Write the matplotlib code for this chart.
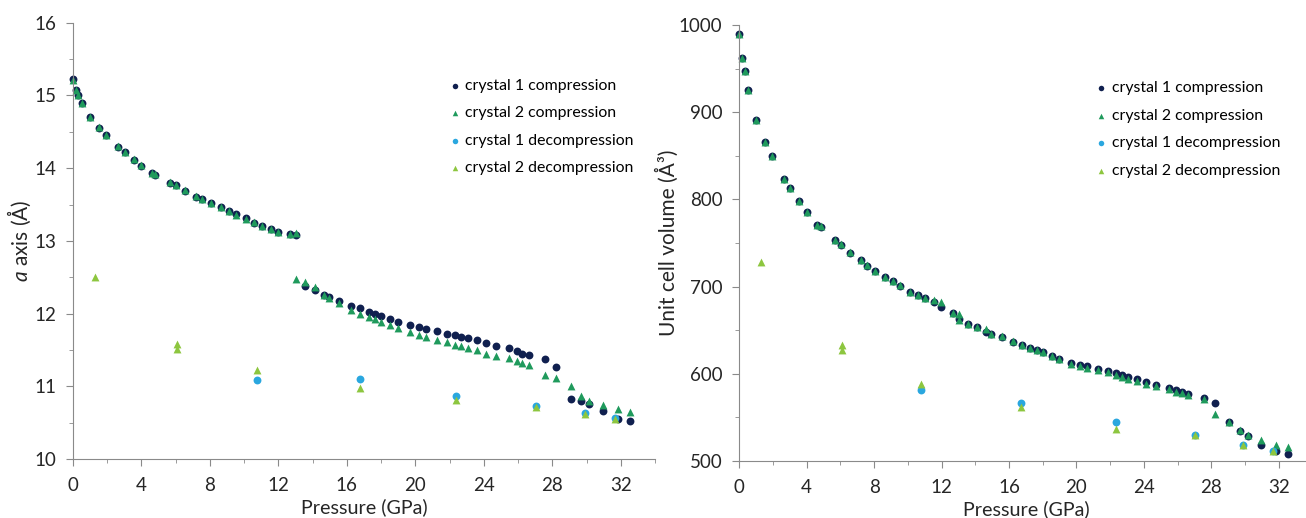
import matplotlib
matplotlib.use("Agg")
import matplotlib.pyplot as plt
from matplotlib.ticker import MultipleLocator

plt.rcParams['font.family'] = ['Lato', 'DejaVu Sans']
plt.rcParams['mathtext.fontset'] = 'custom'
plt.rcParams['mathtext.rm'] = 'Lato'
plt.rcParams['mathtext.it'] = 'Lato:italic'

# crystal 1 compression
p_c1 = [0, 0.19, 0.33, 0.54, 1.01, 1.52, 1.93, 2.66, 3.04, 3.56, 4.01, 4.63, 4.83,
        5.67, 6.05, 6.56, 7.22, 7.57, 8.08, 8.64, 9.13, 9.52, 10.1, 10.59, 11.04,
        11.57, 11.97, 12.67, 13.02,
        13.57, 14.13, 14.64, 14.93, 15.57, 16.26, 16.78, 17.27, 17.66, 18.01, 18.53,
        18.98, 19.66, 20.19, 20.6, 21.26, 21.85, 22.33, 22.68, 23.07, 23.6, 24.12,
        24.73, 25.49, 25.91, 26.23, 26.63, 27.59, 28.23, 29.07, 29.67, 30.16, 30.94,
        31.81, 32.52]
a_c1 = [15.22, 15.08, 15.0, 14.89, 14.70, 14.55, 14.46, 14.29, 14.22, 14.11, 14.03,
        13.94, 13.91, 13.80, 13.77, 13.69, 13.61, 13.57, 13.52, 13.46, 13.41, 13.37,
        13.32, 13.25, 13.21, 13.16, 13.12, 13.09, 13.08,
        12.38, 12.32, 12.26, 12.23, 12.17, 12.10, 12.07, 12.02, 11.99, 11.96, 11.93,
        11.89, 11.84, 11.82, 11.79, 11.76, 11.72, 11.70, 11.68, 11.67, 11.63, 11.60,
        11.56, 11.52, 11.48, 11.45, 11.43, 11.38, 11.27, 10.83, 10.80, 10.75, 10.66,
        10.55, 10.52]
v_c1 = [990, 963, 947, 926, 891, 866, 850, 824, 813, 798, 786, 771, 768, 754, 748,
        739, 730, 724, 718, 711, 706, 701, 694, 690, 687, 682, 677, 670, 663,
        657.5, 653, 647.5, 645, 642, 636, 632.5, 629, 627, 624.5, 620.7, 617, 612.6,
        610.3, 608.4, 605.3, 603, 600.3, 598, 596, 593.4, 590.3, 587.4, 583.5, 580.8,
        579.3, 576.6, 572, 566, 544.4, 534.5, 528.3, 518.4, 511, 508]

# crystal 2 compression
p_c2 = [0, 0.19, 0.33, 0.54, 1.01, 1.52, 1.93, 2.66, 3.04, 3.56, 4.01, 4.63, 4.83,
        5.67, 6.05, 6.56, 7.22, 7.57, 8.08, 8.64, 9.13, 9.52, 10.1, 10.59, 11.04,
        11.57, 11.97, 12.67, 13.04,
        13.05, 13.57, 14.13, 14.64, 14.93, 15.57, 16.26, 16.78, 17.27, 17.66, 18.01,
        18.53, 18.98, 19.66, 20.19, 20.6, 21.26, 21.85, 22.33, 22.68, 23.07, 23.6,
        24.12, 24.73, 25.49, 25.91, 26.23, 26.63, 27.59, 28.23, 29.07, 29.67, 30.16,
        30.94, 31.81, 32.52]
a_c2 = [15.21, 15.07, 15.0, 14.89, 14.71, 14.56, 14.46, 14.30, 14.22, 14.12, 14.04,
        13.94, 13.92, 13.81, 13.77, 13.70, 13.62, 13.58, 13.52, 13.46, 13.41, 13.36,
        13.30, 13.26, 13.21, 13.16, 13.12, 13.10, 13.11,
        12.47, 12.43, 12.37, 12.26, 12.22, 12.15, 12.05, 12.0, 11.95, 11.92, 11.88,
        11.84, 11.80, 11.74, 11.71, 11.68, 11.64, 11.61, 11.57, 11.55, 11.53, 11.50,
        11.45, 11.42, 11.39, 11.35, 11.32, 11.29, 11.15, 11.11, 11.01, 10.87, 10.80,
        10.74, 10.69, 10.65]
v_c2 = [990, 963, 948, 926, 891, 866, 850, 824, 813, 798, 786, 771, 769, 754, 749,
        740, 730, 725, 718, 711, 706, 702, 694, 690, 687, 685, 682, 670, 668,
        662, 657.5, 653, 651, 645.5, 643, 637, 633, 629.5, 627, 624.5, 620, 617,
        611.5, 609, 607, 604, 601.5, 598.5, 596, 594, 591.5, 588.5, 586, 582, 579,
        577.5, 575, 570.5, 554, 544.4, 535.5, 529, 523.3, 518.4, 515.6]

# crystal 1 decompression
p_d1 = [10.77, 16.74, 22.37, 27.02, 29.9, 31.63]
a_d1 = [11.09, 11.10, 10.87, 10.73, 10.63, 10.56]
v_d1 = [580.8, 566.2, 544.7, 529.1, 518.4, 510.7]

# crystal 2 decompression
p_d2 = [1.30, 6.07, 6.07, 10.77, 16.74, 22.37, 27.02, 29.9, 31.63]
a_d2 = [12.50, 11.58, 11.51, 11.22, 10.98, 10.81, 10.72, 10.62, 10.55]
v_d2 = [728.3, 632.5, 627.6, 588.5, 561.6, 536.7, 529.1, 518.4, 510.7]

labels = ["crystal 1 compression", "crystal 2 compression",
          "crystal 1 decompression", "crystal 2 decompression"]
colors = ["#10204f", "#1f9a5c", "#2aa7df", "#8dc63f"]
markers = ["o", "^", "o", "^"]

fig = plt.figure(figsize=(13.06, 5.18), dpi=100)
ax1 = fig.add_axes([0.0557, 0.114, 0.446, 0.842])
ax2 = fig.add_axes([0.566, 0.1106, 0.439, 0.8405])

series1 = [(p_c1, a_c1), (p_c2, a_c2), (p_d1, a_d1), (p_d2, a_d2)]
series2 = [(p_c1, v_c1), (p_c2, v_c2), (p_d1, v_d1), (p_d2, v_d2)]

for ax, series in [(ax1, series1), (ax2, series2)]:
    for (x, y), lab, c, m in zip(series, labels, colors, markers):
        ax.scatter(x, y, s=32, c=c, marker=m, label=lab, linewidths=0, clip_on=False)
    ax.set_xlim(0, 34)
    ax.xaxis.set_major_locator(MultipleLocator(4))
    ax.xaxis.set_minor_locator(MultipleLocator(2))
    for s in ["top", "right"]:
        ax.spines[s].set_visible(False)
    for s in ["left", "bottom"]:
        ax.spines[s].set_color("#8a8a8a")
    ax.tick_params(which="both", color="#8a8a8a", labelsize=13.5, labelcolor="#262626")
    ax.tick_params(which="major", length=5)
    ax.tick_params(which="minor", length=3)
    ax.tick_params(axis="x", which="major", pad=8)
    ax.tick_params(axis="y", which="major", pad=7)
    ax.set_xlabel("Pressure (GPa)", fontsize=14.2, color="#262626", labelpad=3)

ax1.set_ylim(10, 16)
ax1.yaxis.set_major_locator(MultipleLocator(1))
ax1.yaxis.set_minor_locator(MultipleLocator(0.5))
ax1.set_ylabel("$a$ axis (Å)", fontsize=15, color="#262626", labelpad=1)

ax2.set_ylim(500, 1000)
ax2.yaxis.set_major_locator(MultipleLocator(100))
ax2.yaxis.set_minor_locator(MultipleLocator(50))
ax2.set_ylabel("Unit cell volume (Å³)", fontsize=15, color="#262626", labelpad=0)

for ax, anchor in [(ax1, (0.625, 0.89)), (ax2, (0.6, 0.89))]:
    ax.legend(loc="upper left", bbox_to_anchor=anchor, frameon=False, fontsize=11.4,
              handletextpad=0.0, labelspacing=0.85, borderpad=0,
              handlelength=1.3, markerscale=0.7)

fig.savefig("out.png", dpi=100)
